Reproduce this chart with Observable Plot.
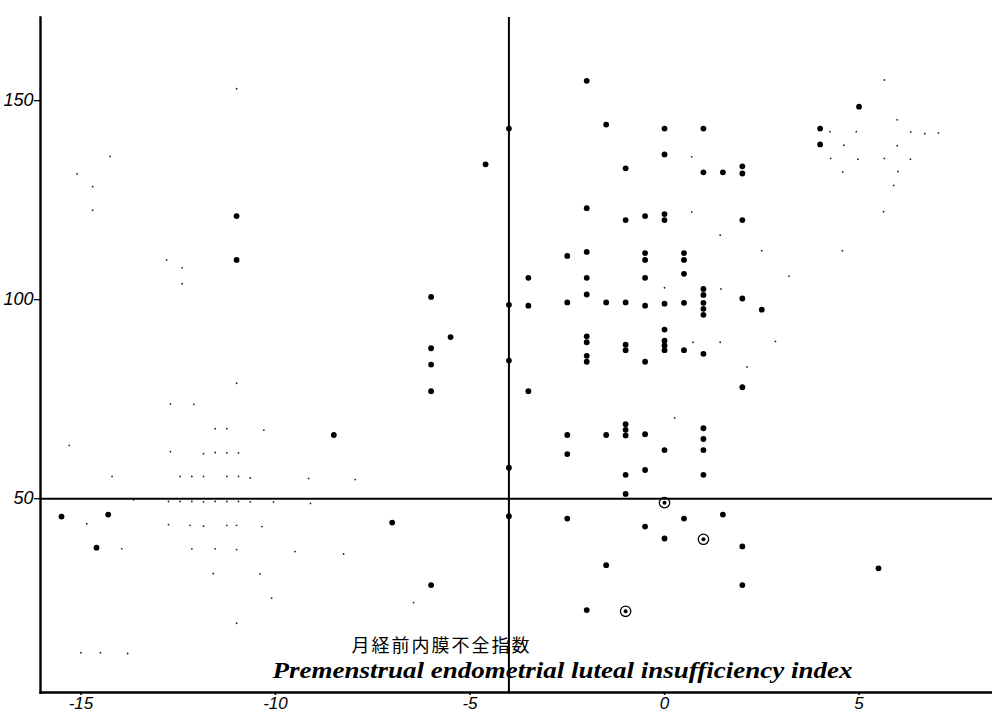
<!DOCTYPE html>
<html><head><meta charset="utf-8">
<script src="https://cdn.jsdelivr.net/npm/d3@7"></script>
<script src="https://cdn.jsdelivr.net/npm/@observablehq/plot@0.6"></script>
<style>body{margin:0;background:#fff}</style>
</head><body><div id="chart"></div>
<script>
// Main (solid) observations: index (x) and value (y)
const dotX = [-2,-4,-1.5,0,1,4,4,-4.6,0,-1,1,1.5,2,2,-2,-1,-0.5,0,0,2,
  -2.5,-2,-0.5,-0.5,0.5,0.5,-3.5,-2,-0.5,0.5,-2,1,1,1,1,1,-4,-3.5,-2.5,-1.5,
  -1,-0.5,0,0.5,2,2.5,0,-2,-2,-1,-1,0,0,0,0.5,1,-2,-2,-0.5,-4,
  -3.5,2,-2.5,-1.5,-1,-1,-1,-0.5,1,1,1,-2.5,0,-1,-0.5,1,-4,-1,-4,-2.5,
  0.5,1.5,-0.5,0,2,-1.5,2,-2,-6,-8.5,-15.5,-14.3,-14.6,-7,-6,-11,-11,-6,-5.5,-6,-6,5,5.5];
const dotY = [155,143,144,143,143,143,139,134,136.5,133,132,132,133.5,131.7,123,120,121,121.5,120,120,
  111,112,111.7,110,111.7,110,105.5,105.5,105.5,106.5,101.3,102.7,101.2,99.2,97.7,96.2,98.7,98.5,99.3,99.3,
  99.3,98.5,99,99.2,100.3,97.5,92.5,90.8,89.3,88.7,87.3,89.7,88.5,87.3,87.3,86.4,85.9,84.4,84.4,84.7,
  77,78,66,66,68.7,67.3,65.9,66.2,67.7,65,62.2,61.2,62.2,56,57.2,56,57.8,51.2,45.6,45,
  45,46,43,40,38,33.3,28.3,22,77,66,45.5,46,37.7,44,28.3,121,110,100.7,90.6,87.8,83.7,148.5,32.5];

// Circled observations
const ringX = [0, 1, -1];
const ringY = [49, 39.8, 21.7];

// Faint specks printed in the figure
const faintX = [-12.7,-12.1,-11.55,-11.25,-10.3,-15.3,-12.7,-11.85,-11.55,-11.25,-10.95,-14.2,-12.45,-12.15,-11.85,-11.25,-10.95,-10.65,-9.15,-7.95,
  -13.65,-12.75,-12.45,-12.15,-11.85,-11.55,-11.25,-10.95,-10.65,-10.05,-9.1,-14.85,-12.75,-12.2,-11.85,-11.25,-11,-10.35,-13.95,-12.15,
  -11.55,-11,-9.5,-8.25,-11.6,-10.4,-10.1,-6.45,-11,-15,-14.5,-13.8,
  5.65,5.98,4.25,4.93,6.33,6.69,7.04,4.61,5.98,4.27,4.97,5.65,6.32,4.58,6,5.89,5.63,4.57,
  0.7,0.7,1.43,2.5,3.2,0,1.45,0.73,1.43,2.85,2.12,0.26,
  -14.25,-15.1,-14.7,-14.7,-12.8,-12.4,-12.4,-11,-11];
const faintY = [73.8,73.7,67.6,67.6,67.2,63.4,61.8,61.3,61.6,61.5,61.5,55.6,55.6,55.6,55.6,55.6,55.6,55.2,55.1,54.8,
  49.7,49.3,49.3,49.3,49.2,49.3,49.3,49.3,49.2,49.2,48.8,43.7,43.5,43.3,43.1,43.3,43.3,43,37.4,37.4,
  37.4,37.2,36.7,36.1,31.2,31.1,25,23.9,18.7,11.3,11.3,11.1,
  155.2,145.2,142.2,142.2,142.1,141.7,141.9,138.8,138.7,135.5,135.3,135.5,135.3,132.1,132.2,128.7,122.1,112.3,
  135.9,122,116.2,112.3,105.9,103,102.7,89.3,89.3,89.5,83.1,70.3,
  136,131.6,128.4,122.5,110,108,104,153,79];

// Cut-off lines
const cutX = [-4];
const cutY = [50];

// Axes
const xTicks = [-15, -10, -5, 0, 5];
const yTicks = [50, 100, 150];
const xDomain = [-16.04, 8.43];
const yDomain = [1.3, 170.9];

const titleJa = "月経前内膜不全指数";
const titleEn = "Premenstrual endometrial luteal insufficiency index";

const main = dotX.map((x, i) => ({x, y: dotY[i]}));
const rings = ringX.map((x, i) => ({x, y: ringY[i]}));
const faint = faintX.map((x, i) => ({x, y: faintY[i]}));

const digitFont = "'Liberation Sans Narrow', 'Liberation Sans', sans-serif";

const chart = Plot.plot({
  width: 992, height: 716,
  marginLeft: 40, marginRight: 0, marginTop: 17, marginBottom: 24,
  style: {background: "#fff", color: "#000"},
  x: {domain: xDomain},
  y: {domain: yDomain},
  marks: [
    Plot.axisX({ticks: xTicks, tickFormat: d => String(d), tickSize: 3, tickPadding: 1,
      fontSize: 17, fontStyle: "italic", fontFamily: digitFont, label: null, strokeWidth: 1.5}),
    Plot.axisY({ticks: yTicks, tickFormat: d => String(d), tickSize: 6, tickPadding: 1,
      fontSize: 18, fontStyle: "italic", fontFamily: digitFont, label: null, strokeWidth: 1.3}),
    Plot.frame({anchor: "left", strokeWidth: 2.4}),
    Plot.frame({anchor: "bottom", strokeWidth: 2.4}),
    Plot.ruleX(cutX, {strokeWidth: 2}),
    Plot.ruleY(cutY, {strokeWidth: 2}),
    Plot.dot(faint, {x: "x", y: "y", r: 0.9, fill: "#222"}),
    Plot.dot(main, {x: "x", y: "y", r: 2.9, fill: "#000"}),
    Plot.dot(rings, {x: "x", y: "y", r: 5.2, stroke: "#000", strokeWidth: 1.3, fill: "none"}),
    Plot.dot(rings, {x: "x", y: "y", r: 2, fill: "#000"}),
    Plot.text([titleJa], {frameAnchor: "bottom-left", text: d => d, dx: 311, dy: -41,
      textAnchor: "start", lineAnchor: "bottom", fontSize: 18,
      fontFamily: "'Noto Sans CJK JP', sans-serif", fill: "#000"}),
    Plot.text([titleEn], {frameAnchor: "bottom-left", text: d => d, dx: 522, dy: -15,
      textAnchor: "middle", lineAnchor: "bottom", fontSize: 24, fontStyle: "italic",
      fontWeight: 600, fontFamily: "'Liberation Serif', serif", fill: "#000"})
  ]
});

d3.select(chart).selectAll("text").each(function() {
  if (this.textContent === titleEn) {
    d3.select(this).attr("textLength", 580).attr("lengthAdjust", "spacingAndGlyphs");
  }
  if (this.textContent === titleJa) {
    d3.select(this).style("letter-spacing", "2px");
  }
});

document.getElementById("chart").appendChild(chart);
</script>
</body></html>
